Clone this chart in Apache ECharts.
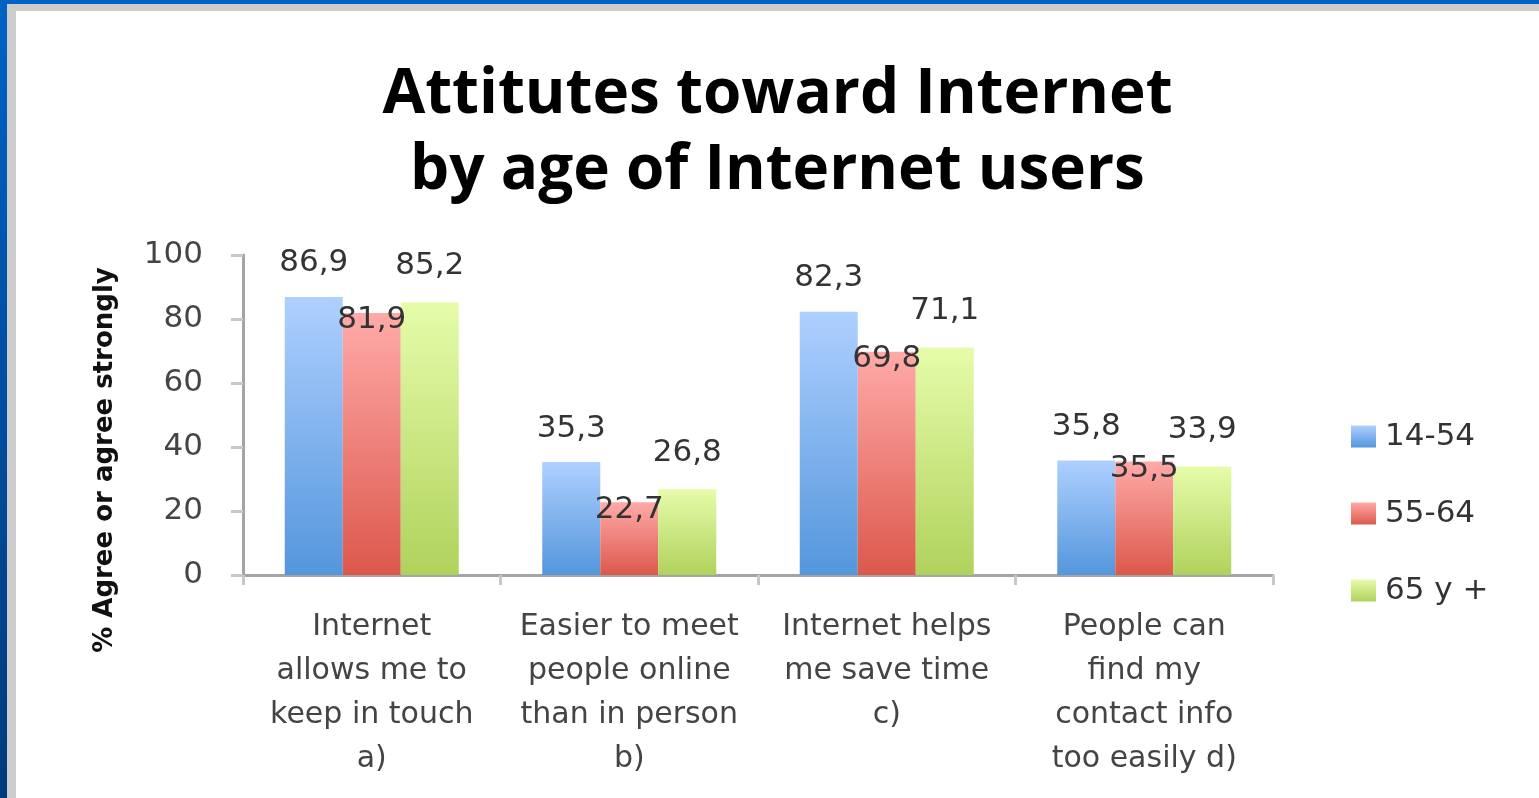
<!DOCTYPE html>
<html>
<head>
<meta charset="utf-8">
<script src="https://cdn.jsdelivr.net/npm/echarts@6/dist/echarts.min.js"></script>
<style>
  html, body { margin: 0; padding: 0; width: 1539px; height: 798px; overflow: hidden; }
  body { background: linear-gradient(#0062c4, #003a7c); position: relative; }
  #frame { position: absolute; left: 7px; top: 4px; right: 0; bottom: 0; background: #cccccc; }
  #chart { position: absolute; left: 16px; top: 11px; width: 1523px; height: 787px; background: #ffffff; }
</style>
</head>
<body>
<div id="frame"></div>
<div id="chart"></div>
<script>
// Survey answers by age group, % agree or agree strongly
const categories = [
  'Internet\nallows me to\nkeep in touch\na)',
  'Easier to meet\npeople online\nthan in person\nb)',
  'Internet helps\nme save time\nc)',
  'People can\nfind my\ncontact info\ntoo easily d)'
];
const seriesNames = ['14-54', '55-64', '65 y +'];
const values1454 = [86.9, 35.3, 82.3, 35.8];
const values5564 = [81.9, 22.7, 69.8, 35.5];
const values65 = [85.2, 26.8, 71.1, 33.9];
const yTicks = [0, 20, 40, 60, 80, 100];
const yAxisTitle = '% Agree or agree strongly';

const palette = [
  { top: '#aed0ff', bottom: '#5496dc' },
  { top: '#ffaaa8', bottom: '#dc584c' },
  { top: '#e6fcaa', bottom: '#b0d25c' }
];

function grad(p) {
  return { type: 'linear', x: 0, y: 0, x2: 0, y2: 1,
    colorStops: [{ offset: 0, color: p.top }, { offset: 1, color: p.bottom }] };
}

const labelFont = { fontFamily: 'DejaVu Sans', fontSize: 31, color: '#333333' };
const fmt = p => String(p.value).replace('.', ',');

function makeSeries(name, data, p, labelCfg) {
  return {
    name: name,
    type: 'bar',
    data: data,
    barWidth: 58,
    barGap: '0%',
    itemStyle: { color: grad(p) },
    label: Object.assign({ show: true, formatter: fmt }, labelFont, labelCfg)
  };
}

const chart = echarts.init(document.getElementById('chart'), null, { renderer: 'canvas' });
chart.setOption({
  animation: false,
  title: {
    text: 'Attitutes toward Internet\nby age of Internet users',
    left: 'center',
    top: 41,
    textStyle: { fontFamily: 'Open Sans', fontWeight: 'bold', fontSize: 62, lineHeight: 76, color: '#000000' }
  },
  legend: {
    orient: 'vertical',
    left: 1330,
    top: 405,
    itemWidth: 25,
    itemHeight: 22,
    itemGap: 46,
    icon: 'rect',
    data: seriesNames.map((n, i) => ({ name: n, itemStyle: { color: grad(palette[i]) } })),
    textStyle: { fontFamily: 'DejaVu Sans', fontSize: 31, lineHeight: 28, color: '#333333', padding: [0, 0, 0, 4] }
  },
  grid: { left: 227, right: 266, top: 244, bottom: 223, containLabel: false },
  xAxis: {
    type: 'category',
    data: categories,
    axisLine: { lineStyle: { color: '#a4a4a4', width: 3 } },
    axisTick: { show: true, length: 10, lineStyle: { color: '#c8c8c8', width: 3 } },
    axisLabel: { fontFamily: 'DejaVu Sans', fontSize: 30, lineHeight: 44, color: '#444444', margin: 30, interval: 0 }
  },
  yAxis: {
    type: 'value',
    min: 0,
    max: 100,
    interval: 20,
    axisLine: { show: true, lineStyle: { color: '#a4a4a4', width: 3 } },
    axisTick: { show: true, length: 12, lineStyle: { color: '#c8c8c8', width: 3 } },
    axisLabel: {
      margin: 40,
      fontFamily: 'DejaVu Sans', fontSize: 31, color: '#444444',
      formatter: v => (yTicks.indexOf(v) >= 0 ? String(v) : '')
    },
    splitLine: { show: false }
  },
  graphic: [{
    type: 'text',
    x: 89,
    y: 449,
    rotation: Math.PI / 2,
    style: {
      text: yAxisTitle,
      fontFamily: 'DejaVu Sans',
      fontWeight: 'bold',
      fontSize: 26,
      fill: '#111111',
      textAlign: 'center',
      textVerticalAlign: 'middle'
    }
  }],
  series: [
    makeSeries(seriesNames[0], values1454, palette[0], { position: 'top', distance: 18 }),
    makeSeries(seriesNames[1], values5564, palette[1], { position: 'top', distance: 0, offset: [0, 23] }),
    makeSeries(seriesNames[2], values65, palette[2], { position: 'top', distance: 21 })
  ]
});
</script>
</body>
</html>
